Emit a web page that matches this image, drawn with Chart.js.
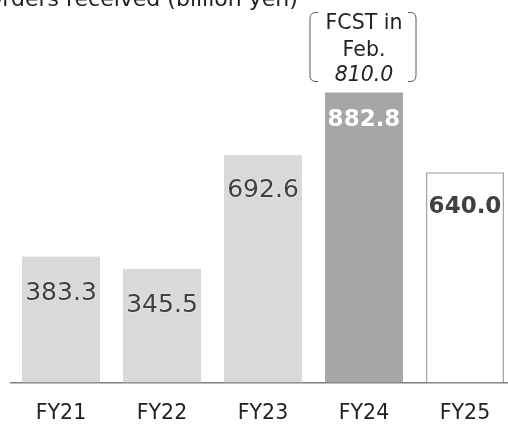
<!DOCTYPE html>
<html>
<head>
<meta charset="utf-8">
<script src="https://cdn.jsdelivr.net/npm/chart.js@4.4.1/dist/chart.umd.min.js"></script>
<style>
  html, body { margin: 0; padding: 0; background: #fff; overflow: hidden; }
  #wrap { position: relative; width: 508px; height: 424px; overflow: hidden; }
</style>
</head>
<body>
<div id="wrap"><canvas id="ordersChart" width="516" height="445"></canvas></div>
<script>
const categories = ['FY21', 'FY22', 'FY23', 'FY24', 'FY25'];
const ordersReceived = [383.3, 345.5, 692.6, 882.8, 640.0];
const valueLabels = ['383.3', '345.5', '692.6', '882.8', '640.0'];
const forecastText = ['FCST in', 'Feb.'];
const forecastValue = '810.0';
const titleText = 'Orders received (billion yen)';

const FONT = '"DejaVu Sans", Verdana, sans-serif';
const barFill = ['#d9d9d9', '#d9d9d9', '#d9d9d9', '#a6a6a6', '#ffffff'];
const barBorder = ['#d9d9d9', '#d9d9d9', '#d9d9d9', '#a6a6a6', '#a6a6a6'];
const barBorderWidth = [0, 0, 0, 0, 1.5];
const labelOffset = [37, 37, 36, 28, 35];
const labelStyle = [
    { color: '#404040', weight: 'normal', size: 25, halo: true },
    { color: '#404040', weight: 'normal', size: 25, halo: true },
    { color: '#404040', weight: 'normal', size: 25, halo: true },
    { color: '#ffffff', weight: 'bold', size: 23, halo: false },
    { color: '#404040', weight: 'bold', size: 23, halo: false }
];

// title at the top, partly cut off on the left like the source
const titlePlugin = {
    id: 'titleText',
    afterDraw(chart) {
        const ctx = chart.ctx;
        ctx.save();
        ctx.font = `22px ${FONT}`;
        ctx.fillStyle = '#222';
        ctx.textAlign = 'left';
        ctx.textBaseline = 'alphabetic';
        ctx.fillText(titleText, -15, 6);
        ctx.restore();
    }
};

const valueLabelPlugin = {
    id: 'valueLabels',
    afterDatasetsDraw(chart) {
        const ctx = chart.ctx;
        const meta = chart.getDatasetMeta(0);
        ctx.save();
        ctx.textAlign = 'center';
        ctx.textBaseline = 'middle';
        meta.data.forEach((bar, i) => {
            const s = labelStyle[i];
            ctx.font = `${s.weight} ${s.size}px ${FONT}`;
            if (s.halo) {
                ctx.shadowColor = 'rgba(255,255,255,0.9)';
                ctx.shadowBlur = 2;
            } else {
                ctx.shadowColor = 'transparent';
                ctx.shadowBlur = 0;
            }
            ctx.fillStyle = s.color;
            ctx.fillText(valueLabels[i], bar.x, bar.y + labelOffset[i]);
        });
        ctx.restore();
    }
};

// bracketed forecast note above the FY24 bar
const forecastPlugin = {
    id: 'forecastNote',
    afterDraw(chart) {
        const ctx = chart.ctx;
        const bar = chart.getDatasetMeta(0).data[3];
        const cx = bar.x;
        const top = bar.y;
        const left = cx - 54, right = cx + 52;
        const y0 = top - 80, y1 = top - 11;
        const r = 6, stub = 8;
        ctx.save();
        ctx.strokeStyle = '#595959';
        ctx.lineWidth = 1;
        ctx.beginPath();
        ctx.moveTo(left + stub, y0);
        ctx.lineTo(left + r, y0);
        ctx.quadraticCurveTo(left, y0, left, y0 + r);
        ctx.lineTo(left, y1 - r);
        ctx.quadraticCurveTo(left, y1, left + r, y1);
        ctx.lineTo(left + stub, y1);
        ctx.moveTo(right - stub, y0);
        ctx.lineTo(right - r, y0);
        ctx.quadraticCurveTo(right, y0, right, y0 + r);
        ctx.lineTo(right, y1 - r);
        ctx.quadraticCurveTo(right, y1, right - r, y1);
        ctx.lineTo(right - stub, y1);
        ctx.stroke();

        ctx.fillStyle = '#222';
        ctx.textAlign = 'center';
        ctx.textBaseline = 'middle';
        ctx.font = `20.5px ${FONT}`;
        ctx.fillText(forecastText[0], cx, top - 69);
        ctx.fillText(forecastText[1], cx, top - 42);
        ctx.font = `italic 20.5px ${FONT}`;
        ctx.fillText(forecastValue, cx, top - 17);
        ctx.restore();
    }
};

new Chart(document.getElementById('ordersChart'), {
    type: 'bar',
    data: {
        labels: categories,
        datasets: [{
            data: ordersReceived,
            backgroundColor: barFill,
            borderColor: barBorder,
            borderWidth: barBorderWidth,
            borderSkipped: 'bottom',
            categoryPercentage: 1,
            barPercentage: 0.772
        }]
    },
    options: {
        responsive: false,
        animation: false,
        devicePixelRatio: 1,
        layout: { padding: { left: 10.5, right: 0.5, top: 54, bottom: 0 } },
        plugins: {
            legend: { display: false },
            tooltip: { enabled: false }
        },
        scales: {
            x: {
                grid: { display: false, drawTicks: false },
                border: { display: true, color: '#7f7f7f', width: 1.5 },
                ticks: {
                    color: '#222',
                    padding: 19,
                    font: { family: FONT, size: 20.5 }
                }
            },
            y: {
                display: false,
                min: 0,
                max: 1000
            }
        }
    },
    plugins: [titlePlugin, valueLabelPlugin, forecastPlugin]
});
</script>
</body>
</html>
